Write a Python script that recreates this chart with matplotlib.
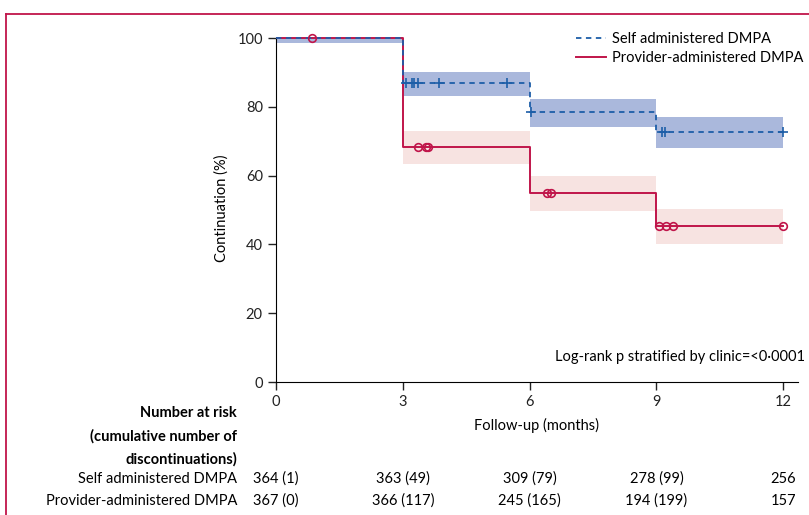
import numpy as np
import matplotlib
matplotlib.use('Agg')
import matplotlib.pyplot as plt
from matplotlib.lines import Line2D

plt.rcParams['font.family'] = ['Lato', 'DejaVu Sans']
plt.rcParams['font.size'] = 10.5

# Kaplan-Meier steps (months, %)
times = [0, 3, 6, 9, 12]
self_surv = [100, 87.0, 78.6, 72.8, 72.8]
self_lo = [98.5, 83.1, 74.0, 67.9, 67.9]
self_hi = [100, 90.0, 82.4, 77.1, 77.1]
prov_surv = [100, 68.2, 55.0, 45.3, 45.3]
prov_lo = [99.6, 63.3, 49.8, 40.1, 40.1]
prov_hi = [100, 73.0, 59.9, 50.3, 50.3]

# censoring times
self_cens = [3.07, 3.21, 3.27, 3.37, 3.86, 5.47, 6.04, 9.14, 9.21, 12.0]
prov_cens = [0.86, 3.35, 3.54, 3.60, 6.42, 6.50, 9.07, 9.22, 9.40, 12.0]

# number at risk table
risk_ticks = [0, 3, 6, 9, 12]
self_risk = ['364 (1)', '363 (49)', '309 (79)', '278 (99)', '256']
prov_risk = ['367 (0)', '366 (117)', '245 (165)', '194 (199)', '157']

blue = '#1d5ea8'
blue_band = '#aab8dc'
red = '#c0154a'
red_band = '#f7e3e1'


def step_value(t_list, surv, t):
    idx = np.searchsorted(t_list, t, side='right') - 1
    return np.array(surv)[idx]


W, H = 809, 515
fig = plt.figure(figsize=(W / 100, H / 100), dpi=100)
ax = fig.add_axes([276 / W, 1 - 382 / H, (798 - 276) / W, (382 - 34.6) / H])

ax.fill_between(times, prov_lo, prov_hi, step='post', color=red_band, lw=0, zorder=1)
ax.fill_between(times, self_lo, self_hi, step='post', color=blue_band, lw=0, zorder=2)

ax.step(times, prov_surv, where='post', color=red, lw=1.4, zorder=3)
ax.step(times, self_surv, where='post', color=blue, lw=1.3, ls=(0, (3, 2.5)), zorder=4)

ax.plot(prov_cens, step_value(times, prov_surv, prov_cens), 'o', ms=5.5,
        mfc='none', mec=red, mew=1.2, zorder=5, clip_on=False)
ax.plot(self_cens, step_value(times, self_surv, self_cens), '+', ms=7,
        color=blue, mew=1.2, zorder=6, clip_on=False)

ax.set_xlim(0, 12.35)
ax.set_ylim(0, 101)
ax.set_xticks(risk_ticks)
ax.set_yticks([0, 20, 40, 60, 80, 100])
ax.spines['top'].set_visible(False)
ax.spines['right'].set_visible(False)
ax.spines['left'].set_bounds(0, 100)
ax.tick_params(direction='out', length=6, width=1, labelsize=10.5, colors='#222222')
ax.set_ylabel('Continuation (%)', fontsize=10.5, labelpad=6)
ax.set_xlabel('Follow-up (months)', fontsize=10.5, labelpad=6)

handles = [Line2D([], [], color=blue, lw=1.3, ls=(0, (3, 2.5))),
           Line2D([], [], color=red, lw=1.4)]
ax.legend(handles, ['Self administered DMPA', 'Provider-administered DMPA'],
          loc='upper right', bbox_to_anchor=(1.036, 1.045), frameon=False,
          fontsize=10.5, handlelength=2.1, handletextpad=0.4, labelspacing=0.35)

ax.text(12.52, 7.3, 'Log-rank p stratified by clinic=<0·0001', ha='right', va='center',
        fontsize=10.5, clip_on=False)

# number at risk
tx = fig.transFigure
lx = 237 / W
fig.text(lx, 1 - 413 / H, 'Number at risk', ha='right', va='center',
         fontweight='bold', fontsize=10.5)
fig.text(lx, 1 - 436 / H, '(cumulative number of', ha='right', va='center',
         fontweight='bold', fontsize=10.5)
fig.text(lx, 1 - 459 / H, 'discontinuations)', ha='right', va='center',
         fontweight='bold', fontsize=10.5)
fig.text(lx, 1 - 479 / H, 'Self administered DMPA', ha='right', va='center', fontsize=10.5)
fig.text(lx, 1 - 501 / H, 'Provider-administered DMPA', ha='right', va='center', fontsize=10.5)
for t, s, p in zip(risk_ticks, self_risk, prov_risk):
    xf = tx.inverted().transform(ax.transData.transform((t, 0)))[0]
    fig.text(xf, 1 - 479 / H, s, ha='center', va='center', fontsize=10.5)
    fig.text(xf, 1 - 501 / H, p, ha='center', va='center', fontsize=10.5)

# frame lines
fig.add_artist(Line2D([6 / W, 6 / W], [0, 1 - 14 / H], color=red, lw=1.3, transform=tx))
fig.add_artist(Line2D([6 / W, 1], [1 - 14 / H, 1 - 14 / H], color=red, lw=1.3, transform=tx))

fig.savefig('out.png', dpi=100)
